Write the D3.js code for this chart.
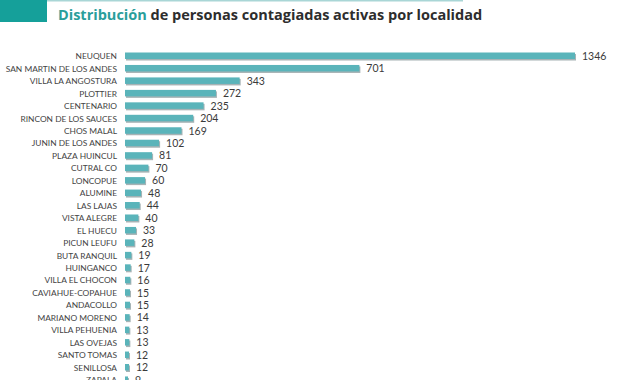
<!DOCTYPE html>
<html><head><meta charset="utf-8">
<script src="https://cdn.jsdelivr.net/npm/d3@7"></script>
<style>
html,body{margin:0;padding:0;background:#fff;}
svg{display:block;}
</style></head>
<body>
<svg id="c" width="617" height="380"></svg>
<script>
const categories = ["NEUQUEN","SAN MARTIN DE LOS ANDES","VILLA LA ANGOSTURA","PLOTTIER","CENTENARIO","RINCON DE LOS SAUCES","CHOS MALAL","JUNIN DE LOS ANDES","PLAZA HUINCUL","CUTRAL CO","LONCOPUE","ALUMINE","LAS LAJAS","VISTA ALEGRE","EL HUECU","PICUN LEUFU","BUTA RANQUIL","HUINGANCO","VILLA EL CHOCON","CAVIAHUE-COPAHUE","ANDACOLLO","MARIANO MORENO","VILLA PEHUENIA","LAS OVEJAS","SANTO TOMAS","SENILLOSA","ZAPALA"];
const values = [1346,701,343,272,235,204,169,102,81,70,60,48,44,40,33,28,19,17,16,15,15,14,13,13,12,12,9];
const titleHighlight = "Distribución";
const titleRest = " de personas contagiadas activas por localidad";

const svg = d3.select("#c");
svg.append("rect").attr("x",0).attr("y",0).attr("width",47).attr("height",22).attr("fill","#15a09a");
svg.append("rect").attr("x",47).attr("y",0).attr("width",416).attr("height",1.5).attr("fill","#a9d6d6");

const title = svg.append("text").attr("x",58).attr("y",20)
  .attr("font-family","'Open Sans', sans-serif").attr("font-weight",700).attr("font-size",14.5);
title.append("tspan").attr("fill","#2a9e9b").text(titleHighlight);
title.append("tspan").attr("fill","#2d2d2d").text(titleRest);

const x0 = 125;
const x = d3.scaleLinear().domain([0,1346]).range([0,450]);
const y = d3.scalePoint().domain(categories).range([56, 56+26*12.46]);

const g = svg.append("g");
const rows = g.selectAll("g.row").data(categories.map((c,i)=>({c,v:values[i]}))).join("g")
  .attr("transform",d=>`translate(0,${y(d.c)})`);

rows.append("rect").attr("x",x0+1).attr("y",-2).attr("height",6.5)
  .attr("width",d=>Math.max(1,x(d.v)))
  .attr("fill","#8a9a9c").attr("opacity",0.75);
rows.append("rect").attr("x",x0).attr("y",-3.5).attr("height",6.5)
  .attr("width",d=>Math.max(1,x(d.v)))
  .attr("fill","#5ab4ba");

rows.append("text").attr("x",117).attr("y",3.2).attr("text-anchor","end")
  .attr("font-family","Lato, sans-serif").attr("font-size",8.4).attr("fill","#444")
  .text(d=>d.c);

rows.append("text").attr("x",d=>x0+x(d.v)+7).attr("y",3.8)
  .attr("font-family","Lato, sans-serif").attr("font-size",10.5).attr("fill","#3a3a3a")
  .text(d=>d.v);
</script>
</body></html>
